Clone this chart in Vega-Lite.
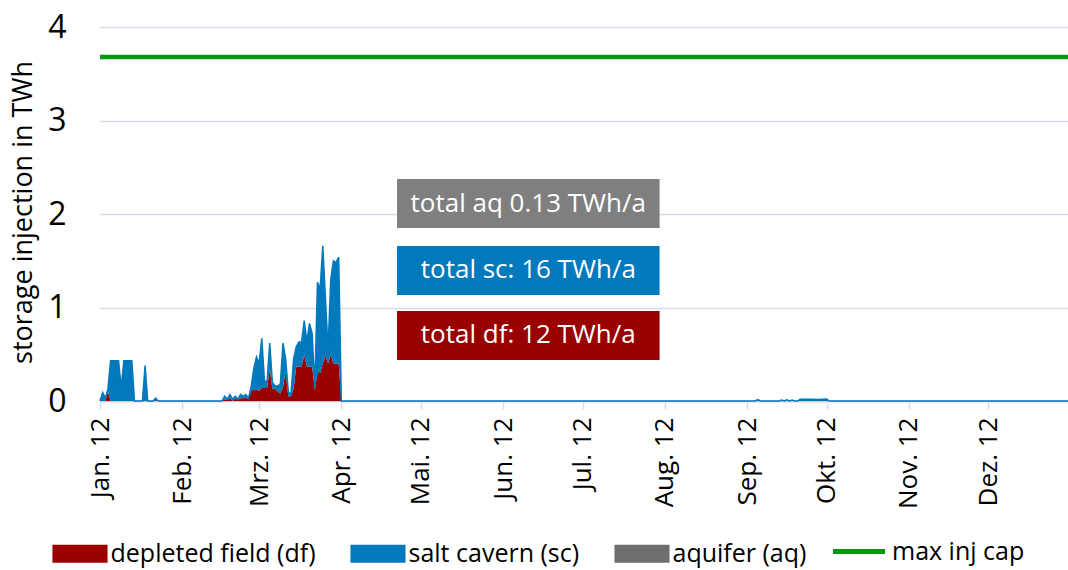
{
  "$schema": "https://vega.github.io/schema/vega-lite/v6.json",
  "width": 968,
  "height": 374,
  "autosize": {"type": "none"},
  "padding": {"left": 100, "top": 27, "right": 0, "bottom": 169},
  "background": "white",
  "config": {
    "font": "Open Sans",
    "view": {"stroke": null},
    "axis": {"labelFont": "Open Sans", "titleFont": "Open Sans", "labelColor": "black", "titleColor": "black"},
    "legend": {"labelFont": "Open Sans", "labelColor": "black"}
  },
  "datasets": {
    "storage": [
      {"d":"2012-01-01","df":0,"sc":0,"aq":0},
      {"d":"2012-01-02","df":0,"sc":0.09,"aq":0},
      {"d":"2012-01-03","df":0,"sc":0.03,"aq":0},
      {"d":"2012-01-04","df":0.1,"sc":0.03,"aq":0},
      {"d":"2012-01-05","df":0,"sc":0.43,"aq":0},
      {"d":"2012-01-06","df":0,"sc":0.43,"aq":0},
      {"d":"2012-01-07","df":0,"sc":0.43,"aq":0},
      {"d":"2012-01-08","df":0,"sc":0.43,"aq":0},
      {"d":"2012-01-09","df":0,"sc":0.14,"aq":0},
      {"d":"2012-01-10","df":0,"sc":0.43,"aq":0},
      {"d":"2012-01-11","df":0,"sc":0.43,"aq":0},
      {"d":"2012-01-12","df":0,"sc":0.43,"aq":0},
      {"d":"2012-01-13","df":0,"sc":0.43,"aq":0},
      {"d":"2012-01-14","df":0,"sc":0,"aq":0},
      {"d":"2012-01-17","df":0,"sc":0,"aq":0},
      {"d":"2012-01-18","df":0,"sc":0.38,"aq":0},
      {"d":"2012-01-19","df":0,"sc":0,"aq":0},
      {"d":"2012-01-21","df":0,"sc":0,"aq":0},
      {"d":"2012-01-22","df":0.01,"sc":0.02,"aq":0},
      {"d":"2012-01-23","df":0,"sc":0,"aq":0},
      {"d":"2012-02-16","df":0,"sc":0,"aq":0},
      {"d":"2012-02-17","df":0.02,"sc":0.03,"aq":0},
      {"d":"2012-02-18","df":0.01,"sc":0.01,"aq":0},
      {"d":"2012-02-19","df":0.03,"sc":0.04,"aq":0},
      {"d":"2012-02-20","df":0,"sc":0.02,"aq":0},
      {"d":"2012-02-21","df":0.03,"sc":0.02,"aq":0},
      {"d":"2012-02-22","df":0.01,"sc":0.01,"aq":0},
      {"d":"2012-02-23","df":0.03,"sc":0.04,"aq":0},
      {"d":"2012-02-24","df":0.03,"sc":0.02,"aq":0},
      {"d":"2012-02-25","df":0.04,"sc":0.03,"aq":0},
      {"d":"2012-02-26","df":0.02,"sc":0.01,"aq":0},
      {"d":"2012-02-27","df":0.11,"sc":0.04,"aq":0},
      {"d":"2012-02-28","df":0.12,"sc":0.23,"aq":0},
      {"d":"2012-02-29","df":0.12,"sc":0.35,"aq":0},
      {"d":"2012-03-01","df":0.11,"sc":0.29,"aq":0},
      {"d":"2012-03-02","df":0.14,"sc":0.53,"aq":0},
      {"d":"2012-03-03","df":0.14,"sc":0.08,"aq":0},
      {"d":"2012-03-04","df":0.14,"sc":0.06,"aq":0},
      {"d":"2012-03-05","df":0.34,"sc":0.28,"aq":0},
      {"d":"2012-03-06","df":0.13,"sc":0.07,"aq":0},
      {"d":"2012-03-07","df":0.13,"sc":0.03,"aq":0},
      {"d":"2012-03-08","df":0.1,"sc":0.06,"aq":0},
      {"d":"2012-03-09","df":0.08,"sc":0.1,"aq":0},
      {"d":"2012-03-10","df":0.15,"sc":0.47,"aq":0},
      {"d":"2012-03-11","df":0.32,"sc":0.13,"aq":0},
      {"d":"2012-03-12","df":0.05,"sc":0.05,"aq":0},
      {"d":"2012-03-13","df":0.05,"sc":0.02,"aq":0},
      {"d":"2012-03-14","df":0.13,"sc":0.32,"aq":0},
      {"d":"2012-03-15","df":0.37,"sc":0.21,"aq":0},
      {"d":"2012-03-16","df":0.37,"sc":0.26,"aq":0},
      {"d":"2012-03-17","df":0.37,"sc":0.26,"aq":0},
      {"d":"2012-03-18","df":0.49,"sc":0.37,"aq":0},
      {"d":"2012-03-19","df":0.37,"sc":0.27,"aq":0},
      {"d":"2012-03-20","df":0.37,"sc":0.46,"aq":0},
      {"d":"2012-03-21","df":0.37,"sc":0.35,"aq":0},
      {"d":"2012-03-22","df":0.12,"sc":0.03,"aq":0},
      {"d":"2012-03-23","df":0.3,"sc":0.97,"aq":0},
      {"d":"2012-03-24","df":0.3,"sc":0.9,"aq":0},
      {"d":"2012-03-25","df":0.4,"sc":1.26,"aq":0},
      {"d":"2012-03-26","df":0.48,"sc":0.62,"aq":0},
      {"d":"2012-03-27","df":0.4,"sc":0.15,"aq":0},
      {"d":"2012-03-28","df":0.5,"sc":0.8,"aq":0},
      {"d":"2012-03-29","df":0.4,"sc":1.1,"aq":0},
      {"d":"2012-03-30","df":0.4,"sc":1.08,"aq":0},
      {"d":"2012-03-31","df":0.4,"sc":1.14,"aq":0},
      {"d":"2012-04-01","df":0,"sc":0,"aq":0},
      {"d":"2012-09-04","df":0,"sc":0,"aq":0},
      {"d":"2012-09-05","df":0,"sc":0.015,"aq":0},
      {"d":"2012-09-06","df":0,"sc":0,"aq":0},
      {"d":"2012-09-13","df":0,"sc":0,"aq":0},
      {"d":"2012-09-14","df":0,"sc":0.01,"aq":0},
      {"d":"2012-09-15","df":0,"sc":0,"aq":0},
      {"d":"2012-09-16","df":0,"sc":0.012,"aq":0},
      {"d":"2012-09-17","df":0,"sc":0,"aq":0},
      {"d":"2012-09-18","df":0,"sc":0.01,"aq":0},
      {"d":"2012-09-19","df":0,"sc":0,"aq":0},
      {"d":"2012-09-20","df":0,"sc":0,"aq":0},
      {"d":"2012-09-21","df":0,"sc":0.02,"aq":0},
      {"d":"2012-09-25","df":0,"sc":0.02,"aq":0},
      {"d":"2012-09-28","df":0,"sc":0.015,"aq":0},
      {"d":"2012-10-01","df":0,"sc":0.02,"aq":0},
      {"d":"2012-10-02","df":0,"sc":0,"aq":0},
      {"d":"2012-12-31","df":0,"sc":0,"aq":0}
    ]
  },
  "layer": [
    {
      "data": {"name": "storage"},
      "transform": [{"fold": ["df", "sc"], "as": ["series", "value"]}],
      "mark": {"type": "area", "opacity": 1},
      "encoding": {
        "x": {
          "field": "d", "type": "temporal",
          "scale": {"type": "utc", "domain": [{"year": 2012, "month": 1, "date": 1, "utc": true}, {"year": 2012, "month": 12, "date": 31, "utc": true}]},
          "axis": {
            "values": [
              {"year": 2012, "month": 1, "date": 1, "utc": true},
              {"year": 2012, "month": 2, "date": 1, "utc": true},
              {"year": 2012, "month": 3, "date": 1, "utc": true},
              {"year": 2012, "month": 4, "date": 1, "utc": true},
              {"year": 2012, "month": 5, "date": 1, "utc": true},
              {"year": 2012, "month": 6, "date": 1, "utc": true},
              {"year": 2012, "month": 7, "date": 1, "utc": true},
              {"year": 2012, "month": 8, "date": 1, "utc": true},
              {"year": 2012, "month": 9, "date": 1, "utc": true},
              {"year": 2012, "month": 10, "date": 1, "utc": true},
              {"year": 2012, "month": 11, "date": 1, "utc": true},
              {"year": 2012, "month": 12, "date": 1, "utc": true}
            ],
            "labelExpr": "['Jan.','Feb.','Mrz.','Apr.','Mai.','Jun.','Jul.','Aug.','Sep.','Okt.','Nov.','Dez.'][utcmonth(datum.value)] + ' ' + utcFormat(datum.value, '%y')",
            "labelAngle": -90,
            "labelAlign": "right",
            "labelBaseline": "middle",
            "labelFontSize": 26,
            "labelPadding": 8,
            "labelFlush": false,
            "labelOverlap": false,
            "tickSize": 8,
            "tickWidth": 1.5,
            "tickColor": "#D9D9EC",
            "domainColor": "#DCC6D6",
            "domainWidth": 1.5,
            "grid": false,
            "title": null
          }
        },
        "y": {
          "field": "value", "type": "quantitative", "stack": "zero",
          "scale": {"domain": [0, 4], "nice": false},
          "title": "storage injection in TWh",
          "axis": {
            "values": [0, 1, 2, 3, 4],
            "format": "d",
            "domain": false,
            "ticks": false,
            "grid": true,
            "gridColor": "#D9D9EC",
            "gridWidth": 1.5,
            "labelFontSize": 32,
            "labelPadding": 34,
            "labelFlush": false,
            "titleFontSize": 27,
            "titleFontWeight": "normal",
            "titleAngle": -90,
            "titleX": -77,
            "titleY": 185,
            "titleAlign": "center",
            "titleBaseline": "middle"
          }
        },
        "order": {"field": "series", "sort": "ascending"},
        "color": {
          "field": "series", "type": "nominal",
          "scale": {"domain": ["df", "sc", "aq"], "range": ["#990000", "#0079BD", "#6E6E6E"]},
          "legend": {
            "orient": "none", "legendX": -51, "legendY": 514,
            "direction": "horizontal", "title": null,
            "symbolType": "M-3.06,-1H3.06V1H-3.06Z", "symbolSize": 324,
            "symbolOffset": 18.5, "symbolStrokeWidth": 0, "symbolOpacity": 1,
            "labelOffset": 18, "labelFontSize": 25, "labelLimit": 400,
            "columnPadding": 31, "padding": 0,
            "labelExpr": "datum.label == 'df' ? 'depleted field (df)' : datum.label == 'sc' ? 'salt cavern (sc)' : 'aquifer (aq)'"
          }
        }
      }
    },
    {
      "data": {"name": "storage"},
      "transform": [
        {"fold": ["df", "sc"], "as": ["series", "value"]},
        {"stack": "value", "groupby": ["d"], "sort": [{"field": "series", "order": "ascending"}], "as": ["v0", "v1"]},
        {"filter": "datum.series == 'sc'"}
      ],
      "mark": {"type": "line", "color": "#0079BD", "strokeWidth": 1.5},
      "encoding": {
        "x": {"field": "d", "type": "temporal"},
        "y": {"field": "v1", "type": "quantitative", "title": "storage injection in TWh"}
      }
    },
    {
      "data": {"values": [{"d": "2012-01-01", "value": 3.68}, {"d": "2012-12-31", "value": 3.68}]},
      "mark": {"type": "line", "strokeWidth": 4.5},
      "encoding": {
        "x": {"field": "d", "type": "temporal"},
        "y": {"field": "value", "type": "quantitative", "title": "storage injection in TWh"},
        "color": {
          "datum": "max inj cap", "type": "nominal",
          "scale": {"range": ["#0A960A"]},
          "legend": {
            "orient": "none", "legendX": 730.5, "legendY": 496, "title": null,
            "symbolType": "stroke", "symbolSize": 2704, "symbolStrokeWidth": 5,
            "labelOffset": 4.5, "labelFontSize": 25, "labelLimit": 400, "padding": 0
          }
        }
      }
    },
    {
      "data": {"values": [{"label": "total aq 0.13 TWh/a"}]},
      "layer": [
        {
          "mark": {"type": "rect", "color": "#7F7F7F"},
          "encoding": {
            "x": {"datum": {"year": 2012, "month": 4, "date": 22, "utc": true}, "type": "temporal"},
            "x2": {"datum": {"year": 2012, "month": 7, "date": 30, "utc": true}},
            "y": {"datum": 2.374, "type": "quantitative"},
            "y2": {"datum": 1.85}
          }
        },
        {
          "mark": {"type": "text", "color": "white", "fontSize": 26, "font": "Open Sans", "align": "center", "baseline": "middle"},
          "encoding": {
            "x": {"datum": {"year": 2012, "month": 6, "date": 10, "hours": 12, "utc": true}, "type": "temporal"},
            "y": {"datum": 2.112, "type": "quantitative"},
            "text": {"field": "label"}
          }
        }
      ]
    },
    {
      "data": {"values": [{"label": "total sc: 16 TWh/a"}]},
      "layer": [
        {
          "mark": {"type": "rect", "color": "#0079BD"},
          "encoding": {
            "x": {"datum": {"year": 2012, "month": 4, "date": 22, "utc": true}, "type": "temporal"},
            "x2": {"datum": {"year": 2012, "month": 7, "date": 30, "utc": true}},
            "y": {"datum": 1.658, "type": "quantitative"},
            "y2": {"datum": 1.134}
          }
        },
        {
          "mark": {"type": "text", "color": "white", "fontSize": 26, "font": "Open Sans", "align": "center", "baseline": "middle"},
          "encoding": {
            "x": {"datum": {"year": 2012, "month": 6, "date": 10, "hours": 12, "utc": true}, "type": "temporal"},
            "y": {"datum": 1.396, "type": "quantitative"},
            "text": {"field": "label"}
          }
        }
      ]
    },
    {
      "data": {"values": [{"label": "total df: 12 TWh/a"}]},
      "layer": [
        {
          "mark": {"type": "rect", "color": "#990000"},
          "encoding": {
            "x": {"datum": {"year": 2012, "month": 4, "date": 22, "utc": true}, "type": "temporal"},
            "x2": {"datum": {"year": 2012, "month": 7, "date": 30, "utc": true}},
            "y": {"datum": 0.963, "type": "quantitative"},
            "y2": {"datum": 0.439}
          }
        },
        {
          "mark": {"type": "text", "color": "white", "fontSize": 26, "font": "Open Sans", "align": "center", "baseline": "middle"},
          "encoding": {
            "x": {"datum": {"year": 2012, "month": 6, "date": 10, "hours": 12, "utc": true}, "type": "temporal"},
            "y": {"datum": 0.701, "type": "quantitative"},
            "text": {"field": "label"}
          }
        }
      ]
    }
  ],
  "resolve": {"scale": {"color": "independent"}}
}
